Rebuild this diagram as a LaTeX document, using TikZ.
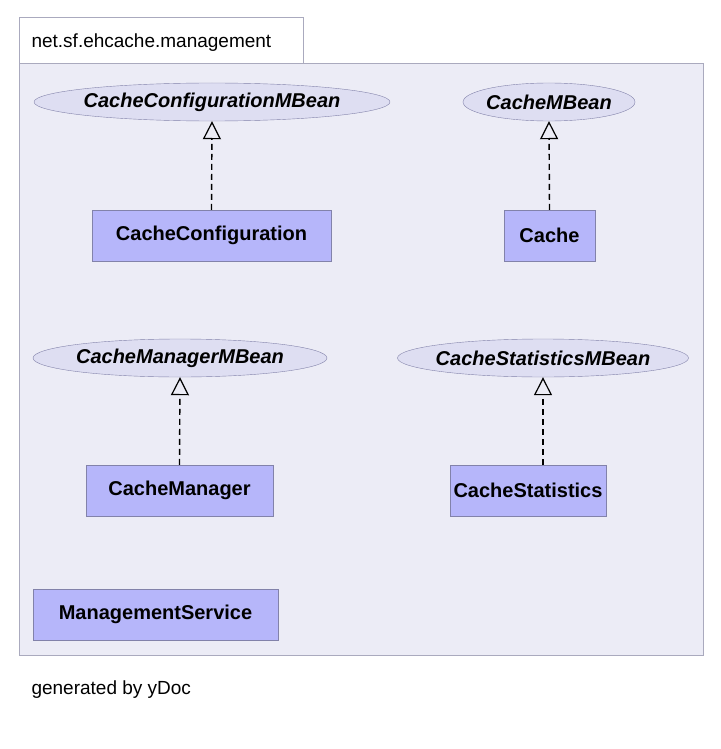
\documentclass[tikz,border=0pt]{standalone}
\usepackage{fontspec}
\setmainfont{Liberation Sans}
\usetikzlibrary{shapes.geometric,arrows.meta}
\definecolor{pkgfill}{RGB}{236,236,246}
\definecolor{pkgline}{RGB}{170,170,190}
\definecolor{clsfill}{RGB}{182,182,250}
\definecolor{clsline}{RGB}{130,130,170}
\definecolor{iffill}{RGB}{222,222,242}
\begin{document}
\begin{tikzpicture}[x=1pt,y=-1pt,
  cls/.style={draw=clsline,fill=clsfill,minimum height=51pt,inner sep=0pt,font=\fontsize{20}{24}\selectfont\bfseries},
  intf/.style={minimum height=38pt,inner sep=0pt,font=\fontsize{20}{24}\selectfont\bfseries\itshape},
  ell/.style={draw=clsline,fill=iffill},
  real/.style={draw,line width=1.4pt,dash pattern=on 6pt off 4pt,-{Triangle[open,length=18pt,width=18pt,line width=1.2pt]}}]
\useasboundingbox (0,0) rectangle (720,749);
\fill[white] (0,0) rectangle (720,749);
\draw[pkgline,fill=white] (19,17) rectangle (303,63);
\node[anchor=west,font=\fontsize{19}{22}\selectfont] (pkg) at (28,43) {net.sf.ehcache.management};
\draw[pkgline,fill=pkgfill] (19,63) rectangle (703,655);
\draw[ell] (212,102) ellipse [x radius=178, y radius=19];
\draw[ell] (549,102) ellipse [x radius=86, y radius=19];
\draw[ell] (180,358) ellipse [x radius=147, y radius=19];
\draw[ell] (543,358) ellipse [x radius=145.5, y radius=19];
\node[intf] (ccm) at (212,102) {CacheConfigurationMBean};
\node[intf] (cm) at (549,102) {CacheMBean};
\node[intf] (cmm) at (180,358) {CacheManagerMBean};
\node[intf] (csm) at (543,358) {CacheStatisticsMBean};
\node[cls,minimum width=239pt] (cc) at (211.5,235.5) {CacheConfiguration};
\node[cls,minimum width=91pt] (c) at (549.5,235.5) {Cache};
\node[cls,minimum width=187pt] (cmg) at (179.5,490.5) {CacheManager};
\node[cls,minimum width=156pt] (cs) at (528,490.5) {CacheStatistics};
\node[cls,minimum width=245pt] (ms) at (155.5,614.5) {ManagementService};
\draw[real] (cc.north) -- (ccm.south);
\draw[real] (c.north) -- (cm.south);
\draw[real] (cmg.north) -- (cmm.south);
\draw[real] (cs.north -| csm.south) -- (csm.south);
\node[anchor=west,font=\fontsize{19}{22}\selectfont] (gen) at (28,690) {generated by yDoc};
\end{tikzpicture}
\end{document}
